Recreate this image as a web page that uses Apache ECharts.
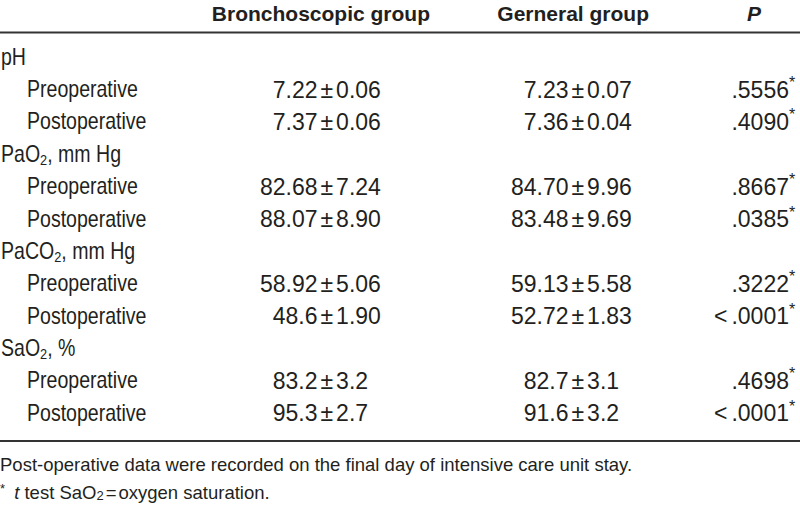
<!DOCTYPE html>
<html>
<head>
<meta charset="utf-8">
<script src="https://cdn.jsdelivr.net/npm/echarts@6/dist/echarts.min.js"></script>
<style>
html,body{margin:0;padding:0;background:#fff;}
#chart{width:800px;height:508px;}
</style>
</head>
<body>
<div id="chart"></div>
<script>
// ---- data ----
const headers = ['Bronchoscopic group', 'Gerneral group', 'P'];
const paramNames = ['pH', 'PaO_2, mm Hg', 'PaCO_2, mm Hg', 'SaO_2, %'];
const phases = ['Preoperative', 'Postoperative'];
const bronchoscopic = ['7.22±0.06', '7.37±0.06', '82.68±7.24', '88.07±8.90', '58.92±5.06', '48.6±1.90', '83.2±3.2', '95.3±2.7'];
const general = ['7.23±0.07', '7.36±0.04', '84.70±9.96', '83.48±9.69', '59.13±5.58', '52.72±1.83', '82.7±3.1', '91.6±3.2'];
const pValues = ['.5556', '.4090', '.8667', '.0385', '.3222', '<.0001', '.4698', '<.0001'];
const footnote1 = 'Post-operative data were recorded on the final day of intensive care unit stay.';
const footnote2 = ['*', 't', ' test SaO', '2', '=', 'oxygen saturation.'];

// ---- layout / style ----
const FAM = '"Liberation Sans", Arial, Helvetica, sans-serif';
const TXT = '#231f20';
const LABEL_X = [1, 27];          // parameter rows, phase rows (indented)
const MEAN_END = [317.5, 568.5];  // columns are aligned on the ± sign
const P_END = 789;
const HEADER_RIGHT = [430, 649, 761];
const LABEL_SCALE = 0.85;

// rows (category axis)
const rowKeys = [];
const rowInfo = [];
paramNames.forEach((p, i) => {
  rowKeys.push('h' + i); rowInfo.push({ text: p, indent: 0 });
  phases.forEach((ph, j) => { rowKeys.push('r' + i + '_' + j); rowInfo.push({ text: ph, indent: 1 }); });
});
function rowOfCell(k) { return Math.floor(k / 2) * 3 + 1 + (k % 2); }

const rich = {
  t: { fontFamily: FAM, fontSize: 23, fill: TXT, lineHeight: 26 },
  s: { fontFamily: FAM, fontSize: 15, fill: TXT, lineHeight: 13, verticalAlign: 'bottom' },
  n: { fontFamily: FAM, fontSize: 23, fill: TXT, lineHeight: 26 },
  pm: { fontFamily: FAM, fontSize: 23, fill: TXT, lineHeight: 26, padding: [0, 3, 0, 3] },
  lt: { fontFamily: FAM, fontSize: 23, fill: TXT, lineHeight: 26, padding: [0, 4, 0, 0] },
  sup: { fontFamily: FAM, fontSize: 16, fill: TXT, lineHeight: 14, verticalAlign: 'top', padding: [0, 0, 0, 1] }
};
function subFmt(t) {
  const parts = t.split('_');
  let out = '{t|' + parts[0] + '}';
  for (let i = 1; i < parts.length; i++) {
    out += '{s|' + parts[i].charAt(0) + '}{t|' + parts[i].slice(1) + '}';
  }
  return out;
}

const labelSeries = {
  type: 'custom', silent: true,
  data: rowInfo.map((r, i) => [LABEL_X[r.indent], i]),
  renderItem: (params, api) => {
    const r = rowInfo[params.dataIndex];
    const p = api.coord([api.value(0), api.value(1)]);
    return {
      type: 'text', x: p[0], y: p[1], scaleX: LABEL_SCALE,
      style: { text: subFmt(r.text), rich: rich, align: 'left', verticalAlign: 'middle' }
    };
  }
};

function valueSeries(values, c) {
  return {
    type: 'custom', silent: true,
    data: values.map((v, k) => [MEAN_END[c], rowOfCell(k)]),
    renderItem: (params, api) => {
      const [mean, sd] = values[params.dataIndex].split('±');
      const p = api.coord([api.value(0), api.value(1)]);
      return {
        type: 'group',
        children: [
          { type: 'text', x: p[0], y: p[1], style: { text: '{n|' + mean + '}', rich: rich, align: 'right', verticalAlign: 'middle' } },
          { type: 'text', x: p[0], y: p[1], style: { text: '{pm|±}{n|' + sd + '}', rich: rich, align: 'left', verticalAlign: 'middle' } }
        ]
      };
    }
  };
}

const pSeries = {
  type: 'custom', silent: true,
  data: pValues.map((v, k) => [P_END, rowOfCell(k)]),
  renderItem: (params, api) => {
    const v = pValues[params.dataIndex];
    const p = api.coord([api.value(0), api.value(1)]);
    const txt = v.charAt(0) === '<' ? '{lt|<}{n|' + v.slice(1) + '}' : '{n|' + v + '}';
    return {
      type: 'group',
      children: [
        { type: 'text', x: p[0], y: p[1], style: { text: txt, rich: rich, align: 'right', verticalAlign: 'middle' } },
        { type: 'text', x: p[0], y: p[1] - 7, style: { text: '*', fontFamily: FAM, fontSize: 16, fill: TXT, align: 'left', verticalAlign: 'middle' } }
      ]
    };
  }
};

const chart = echarts.init(document.getElementById('chart'), null, { renderer: 'svg' });
chart.setOption({
  backgroundColor: '#fff',
  animation: false,
  grid: { left: 0, right: 0, top: 41, bottom: 78.6 },
  xAxis: { type: 'value', min: 0, max: 800, show: false },
  yAxis: { type: 'category', inverse: true, data: rowKeys, show: false },
  series: [labelSeries, valueSeries(bronchoscopic, 0), valueSeries(general, 1), pSeries],
  graphic: [
    { type: 'line', shape: { x1: 0, y1: 32.5, x2: 800, y2: 32.5 }, style: { stroke: '#333', lineWidth: 2 } },
    { type: 'line', shape: { x1: 0, y1: 441, x2: 800, y2: 441 }, style: { stroke: '#333', lineWidth: 2 } },
    { type: 'text', x: HEADER_RIGHT[0], y: 13, style: { text: headers[0], align: 'right', verticalAlign: 'middle', font: 'bold 21px ' + FAM, fill: TXT } },
    { type: 'text', x: HEADER_RIGHT[1], y: 13, style: { text: headers[1], align: 'right', verticalAlign: 'middle', font: 'bold 21px ' + FAM, fill: TXT } },
    { type: 'text', x: HEADER_RIGHT[2], y: 13, style: { text: headers[2], align: 'right', verticalAlign: 'middle', font: 'italic bold 21px ' + FAM, fill: TXT } },
    { type: 'text', x: 0, y: 464, style: { text: footnote1, align: 'left', verticalAlign: 'middle', font: '18.5px ' + FAM, fill: TXT } },
    { type: 'text', x: 0, y: 492, style: {
        text: '{sup|' + footnote2[0] + '}{i| ' + footnote2[1] + '}{f|' + footnote2[2] + '}{fs|' + footnote2[3] + '}{eq|' + footnote2[4] + '}{f|' + footnote2[5] + '}',
        align: 'left', verticalAlign: 'middle',
        rich: {
          sup: { fontFamily: FAM, fontSize: 13, fill: TXT, lineHeight: 12, verticalAlign: 'top' },
          i: { fontFamily: FAM, fontSize: 18.5, fontStyle: 'italic', fill: TXT, lineHeight: 20, padding: [0, 0, 0, 4] },
          f: { fontFamily: FAM, fontSize: 18.5, fill: TXT, lineHeight: 20 },
          fs: { fontFamily: FAM, fontSize: 13, fill: TXT, lineHeight: 12, verticalAlign: 'bottom' },
          eq: { fontFamily: FAM, fontSize: 18.5, fill: TXT, lineHeight: 20, padding: [0, 2, 0, 2] }
        }
      } }
  ]
});
</script>
</body>
</html>
